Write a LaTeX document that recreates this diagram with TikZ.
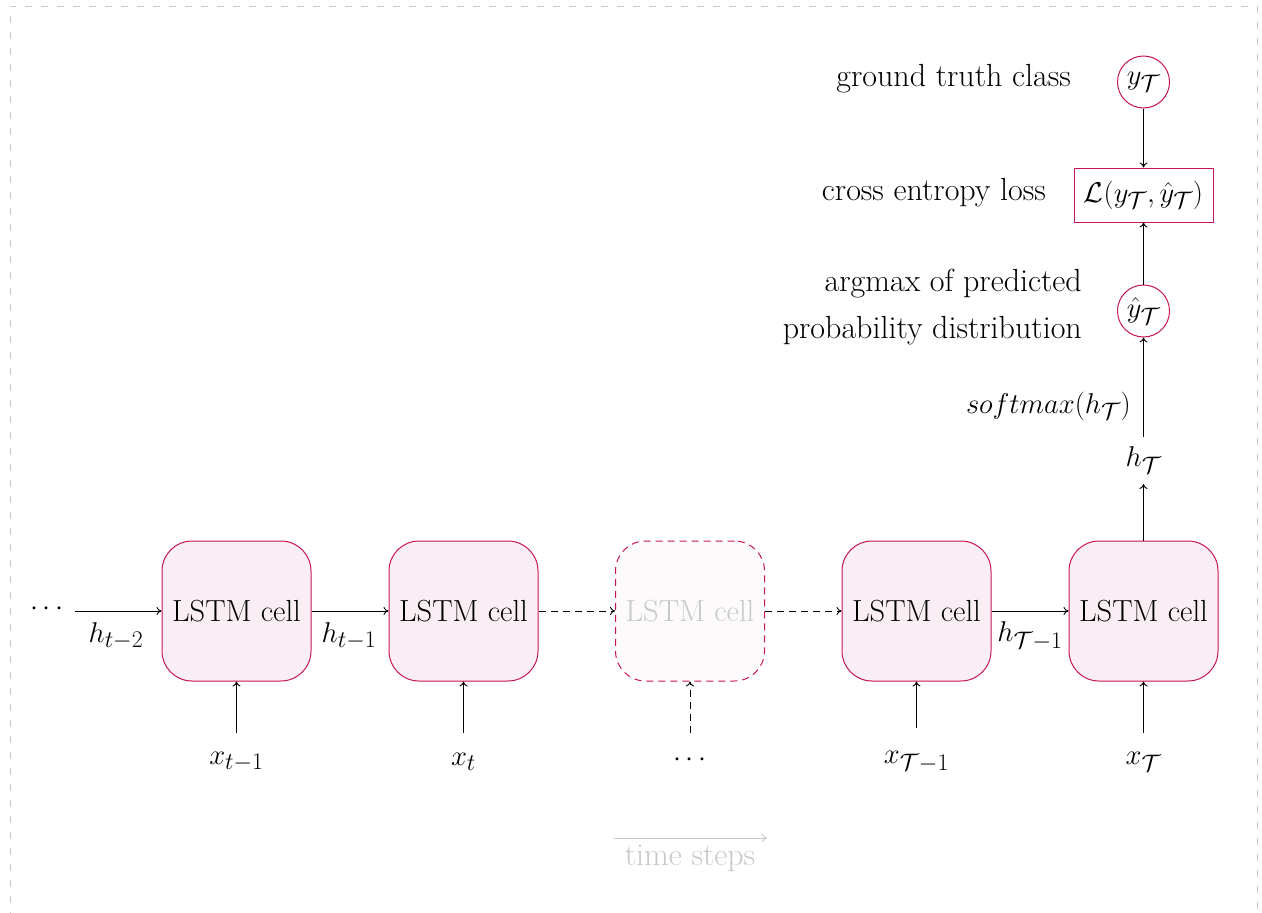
\documentclass[tikz,border=0pt]{standalone}
\usepackage{graphicx}
\usetikzlibrary{arrows.meta}
\definecolor{crim}{HTML}{C8145A}
\definecolor{cellfill}{HTML}{F9EEF3}
\definecolor{ghostfill}{HTML}{FDFAFB}
\definecolor{ghosttext}{HTML}{C8C8C8}
\definecolor{framegray}{HTML}{C8C8C8}
\newcommand{\mymath}[1]{\scalebox{1.15}{$#1$}}
\begin{document}
\begin{tikzpicture}[x=1pt,y=-1pt,
  every node/.style={font=\fontsize{32}{39}\selectfont, inner sep=0pt},
  cell/.style={draw=crim, line width=1pt, fill=cellfill, rounded corners=30pt,
    minimum width=149pt, minimum height=140pt, font=\fontsize{30.5}{36}\selectfont},
  ghost/.style={cell, dashed, dash pattern=on 7pt off 5pt, fill=ghostfill, text=ghosttext},
  circ/.style={draw=crim, line width=1pt, circle, minimum size=52pt},
  lossbox/.style={draw=crim, line width=1pt, minimum width=139pt, minimum height=54pt},
  arr/.style={-{To[length=5pt,width=8pt]}, line width=0.9pt},
  darr/.style={arr, dash pattern=on 7pt off 5pt},
]
\useasboundingbox (0,0) rectangle (1262,913);
\draw[framegray, line width=1pt, dash pattern=on 7pt off 9pt] (10,935) -- (10,6) -- (1257,6) -- (1257,935);

% cells
\node[cell] (c1) at (236.5,611) {LSTM cell};
\node[cell] (c2) at (463.5,611) {LSTM cell};
\node[ghost] (c3) at (690,611) {LSTM cell};
\node[cell] (c4) at (916.5,611) {LSTM cell};
\node[cell] (c5) at (1143.5,611) {LSTM cell};

% left dots
\node (dots) at (47,609) {\mymath{\cdots}};
\coordinate (d0) at (75,611);

% horizontal arrows
\draw[arr] (d0) -- (c1.west);
\draw[arr] (c1.east) -- (c2.west);
\draw[darr] (c2.east) -- (c3.west);
\draw[darr] (c3.east) -- (c4.west);
\draw[arr] (c4.east) -- (c5.west);

\node (h2) at (116,636) {\mymath{h_{t-2}}};
\node (h1) at (349,636) {\mymath{h_{t-1}}};
\node (hT1) at (1030,636) {\mymath{h_{\mathcal{T}-1}}};

% inputs
\node (x1) at (236.5,762) {\mymath{x_{t-1}}};
\node (x2) at (463.5,762) {\mymath{x_{t}}};
\node (x3) at (690,760) {\mymath{\cdots}};
\node (x4) at (916.5,762) {\mymath{x_{\mathcal{T}-1}}};
\node (x5) at (1143.5,762) {\mymath{x_{\mathcal{T}}}};
\coordinate (i1) at (236.5,733);
\coordinate (i2) at (463.5,733);
\coordinate (i3) at (690,733);
\coordinate (i4) at (916.5,728);
\coordinate (i5) at (1143.5,733);
\draw[arr] (i1) -- (c1.south);
\draw[arr] (i2) -- (c2.south);
\draw[darr] (i3) -- (c3.south);
\draw[arr] (i4) -- (c4.south);
\draw[arr] (i5) -- (c5.south);

% output chain
\node (hT) at (1143.5,460) {\mymath{h_{\mathcal{T}}}};
\coordinate (hTbot) at (1143.5,484);
\draw[arr] (c5.north) -- (hTbot);
\coordinate (hTtop) at (1143.5,437);
\node[circ] (yhat) at (1143.5,311) {\mymath{\hat{y}_{\mathcal{T}}}};
\draw[arr] (hTtop) -- (yhat.south);
\node[anchor=east] (sm) at (1131,406) {\mymath{softmax(h_{\mathcal{T}})}};
\node[lossbox] (loss) at (1143.5,195) {\mymath{\mathcal{L}(y_{\mathcal{T}},\hat{y}_{\mathcal{T}})}};
\draw[arr] (yhat.north) -- (loss.south);
\node[circ] (y) at (1143.5,82) {\mymath{y_{\mathcal{T}}}};
\draw[arr] (y.south) -- (loss.north);

% labels
\node[anchor=east] (gt) at (1071,79) {ground truth class};
\node[anchor=east] (ce) at (1046,193) {cross entropy loss};
\node[anchor=east, align=right] (am) at (1082,307) {argmax of predicted\\[8pt]probability distribution};

% time steps
\coordinate (ts0) at (614,838);
\coordinate (ts1) at (767,838);
\draw[-{To[length=5pt,width=8pt]}, ghosttext, line width=0.9pt] (ts0) -- (ts1);
\node[text=ghosttext] (ts) at (690,858) {time steps};
\end{tikzpicture}
\end{document}
